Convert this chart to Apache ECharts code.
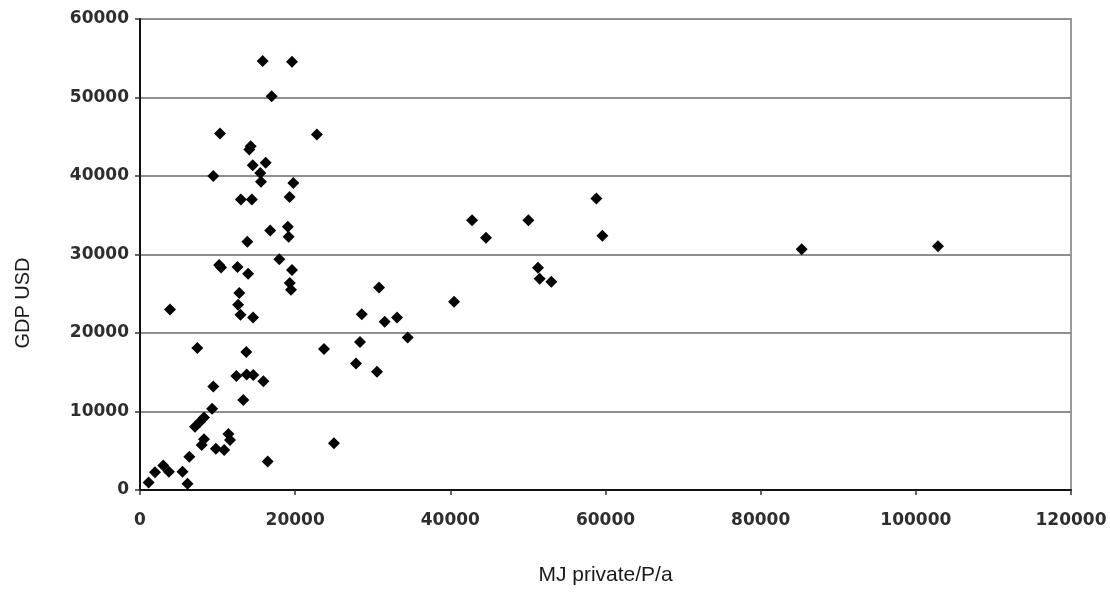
<!DOCTYPE html>
<html>
<head>
<meta charset="utf-8">
<title>GDP vs private energy use</title>
<script src="https://cdn.jsdelivr.net/npm/echarts@6/dist/echarts.min.js"></script>
<style>
  html, body { margin: 0; padding: 0; background: #ffffff; }
  #chart { width: 1110px; height: 592px; }
</style>
</head>
<body>
<div id="chart"></div>
<script>
// Private energy use per person per year (MJ) for each country
var mjPrivate = [
  15810, 19590, 16970, 10310, 22800, 14270, 14090, 14530, 16200, 15500,
  9450, 15600, 19760, 13000, 14420, 19280, 16780, 19050, 19160, 13830,
  17960, 10200, 10450, 12570, 19590, 13940, 19300, 19460, 12800, 3870,
  12650, 12950, 14570, 7390, 13700, 12420, 13750, 14600, 15900, 9450,
  13320, 9300, 7090, 7730, 8250, 8250, 7950, 11400, 11600, 9780,
  10850, 6360, 16460, 3000, 3720, 1930, 5480, 1110, 6120, 25000,
  23720, 28360, 27840, 30550, 28580, 31540, 33130, 34500, 30810, 40480,
  42800, 44600, 50060, 58820, 59600, 51300, 51520, 53020, 85290, 102860
];

// GDP per person (USD), same order as mjPrivate
var gdpUsd = [
  54650, 54570, 50150, 45400, 45300, 43790, 43370, 41370, 41700, 40390,
  39990, 39270, 39100, 37020, 37020, 37320, 33050, 33520, 32250, 31610,
  29400, 28650, 28350, 28400, 28010, 27550, 26380, 25500, 25080, 23000,
  23600, 22320, 21980, 18100, 17590, 14510, 14700, 14640, 13850, 13170,
  11480, 10350, 8060, 8700, 9250, 6450, 5730, 7130, 6370, 5260,
  5090, 4240, 3630, 3120, 2330, 2260, 2330, 950, 800, 5940,
  17970, 18840, 16120, 15060, 22400, 21430, 21980, 19440, 25800, 23970,
  34370, 32120, 34370, 37130, 32380, 28300, 26900, 26520, 30680, 31060
];

// Axis ranges and tick steps
var xTicks = [0, 20000, 40000, 60000, 80000, 100000, 120000];
var yTicks = [0, 10000, 20000, 30000, 40000, 50000, 60000];

var xTitle = 'MJ private/P/a';
var yTitle = 'GDP USD';

var points = mjPrivate.map(function (x, i) { return [x, gdpUsd[i]]; });

var tickFont = {
  fontFamily: 'DejaVu Sans',
  fontWeight: 'bold',
  fontSize: 17,
  color: '#2e2e2e',
  formatter: function (v) { return String(v); }
};

var chart = echarts.init(document.getElementById('chart'), null, { renderer: 'canvas' });

chart.setOption({
  animation: false,
  backgroundColor: '#ffffff',
  grid: {
    left: 140,
    right: 39,
    top: 19,
    bottom: 102,
    show: true,
    borderColor: '#9a9a9a',
    borderWidth: 2,
    backgroundColor: 'transparent'
  },
  // vertical axis title, sitting a little below the plot's middle
  graphic: [{
    type: 'text',
    x: 23,
    y: 303,
    rotation: Math.PI / 2,
    style: {
      text: yTitle,
      fontFamily: 'Liberation Sans',
      fontSize: 20,
      fill: '#1a1a1a',
      textAlign: 'center',
      textVerticalAlign: 'middle'
    }
  }],
  xAxis: {
    type: 'value',
    min: xTicks[0],
    max: xTicks[xTicks.length - 1],
    interval: xTicks[1] - xTicks[0],
    name: xTitle,
    nameLocation: 'middle',
    nameGap: 75,
    nameTextStyle: {
      fontFamily: 'Liberation Sans',
      fontSize: 21,
      color: '#1a1a1a'
    },
    axisLine: { show: true, onZero: false, lineStyle: { color: '#111111', width: 2 } },
    axisTick: { show: true, inside: false, length: 5, lineStyle: { color: '#333333', width: 1.5 } },
    axisLabel: Object.assign({ margin: 22 }, tickFont),
    splitLine: { show: false }
  },
  yAxis: {
    type: 'value',
    min: yTicks[0],
    max: yTicks[yTicks.length - 1],
    interval: yTicks[1] - yTicks[0],
    axisLine: { show: true, onZero: false, lineStyle: { color: '#111111', width: 2 } },
    axisTick: { show: true, inside: false, length: 5, lineStyle: { color: '#333333', width: 1.5 } },
    axisLabel: Object.assign({ margin: 11 }, tickFont),
    splitLine: { show: true, lineStyle: { color: '#8e8e8e', width: 2 } }
  },
  series: [{
    type: 'scatter',
    data: points,
    symbol: 'diamond',
    symbolSize: 12,
    itemStyle: { color: '#050505', opacity: 1 },
    emphasis: { disabled: true }
  }]
});
</script>
</body>
</html>
